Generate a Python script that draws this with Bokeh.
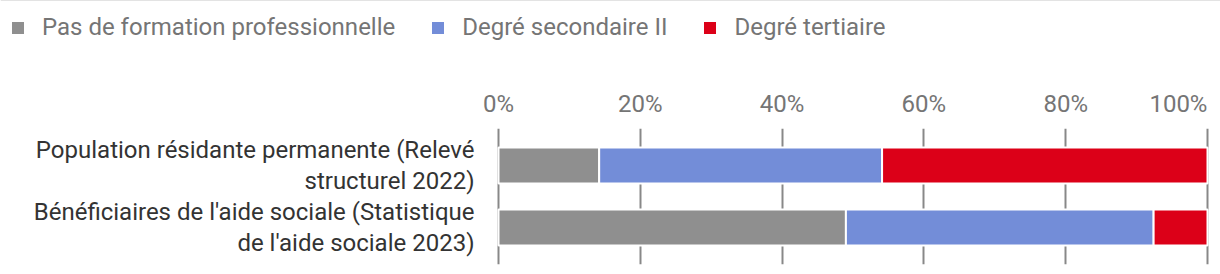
from bokeh.plotting import figure
from bokeh.layouts import column
from bokeh.models import (ColumnDataSource, FixedTicker, Legend, LegendItem, LinearAxis,
                          Range1d, Grid)
from bokeh.embed import file_html
from bokeh.resources import INLINE

# ---- data ----
categories = ["Population résidante permanente (Relevé\nstructurel 2022)",
              "Bénéficiaires de l'aide sociale (Statistique\nde l'aide sociale 2023)"]
series_names = ["Pas de formation professionnelle", "Degré secondaire II", "Degré tertiaire"]
no_training = [14.2, 49.0]
secondary_ii = [39.9, 43.4]
tertiary = [45.9, 7.6]
x_ticks = [0, 20, 40, 60, 80, 100]
x_tick_labels = ["0%", "20%", "40%", "60%", "80%", "100%"]
colors = ["#8f8f8f", "#738dd8", "#dc0018"]

FONT = "Roboto"
FS = "24px"
ypos = [len(categories) - 1 - i for i in range(len(categories))]

src = ColumnDataSource(dict(y=ypos, a=no_training, b=secondary_ii, c=tertiary))

# ---------------- legend strip ----------------
LEG_H = 60
leg = figure(width=1220, height=LEG_H, output_backend="svg", toolbar_location=None,
             x_range=Range1d(0, 1), y_range=Range1d(0, 1),
             x_axis_location=None, y_axis_location=None,
             min_border=0, frame_align=False)
leg.outline_line_color = None
leg.xgrid.visible = False
leg.ygrid.visible = False
# swatch-only renderers, kept outside the visible range of this strip
off = ColumnDataSource(dict(y=[10], a=[1], b=[1], c=[1]))
leg_renderers = leg.hbar_stack(["a", "b", "c"], y="y", height=0.5, color=colors,
                               line_color=None, source=off)
legend = Legend(items=[LegendItem(label=n, renderers=[r]) for n, r in zip(series_names, leg_renderers)],
                orientation="horizontal", location=(10, 19),
                glyph_width=15, glyph_height=15, label_standoff=17, spacing=35,
                padding=0, margin=0, border_line_color=None, background_fill_alpha=0,
                label_text_font=FONT, label_text_font_size=FS, label_text_color="#757575")
leg.add_layout(legend, "center")

# ---------------- main chart ----------------
px_per_unit = 7.09
x_start = -8 / px_per_unit
x_end = 100 + 8 / px_per_unit

p = figure(width=1220, height=274 - LEG_H, output_backend="svg", toolbar_location=None,
           x_range=Range1d(x_start, x_end), y_range=Range1d(-0.597, 1.597),
           x_axis_location=None, y_axis_location=None,
           min_border_left=490, min_border_right=5, min_border_top=128 - LEG_H,
           min_border_bottom=10, frame_align=False)
p.outline_line_color = None
p.xgrid.visible = False
p.ygrid.visible = False

grid = Grid(dimension=0, ticker=FixedTicker(ticks=x_ticks), grid_line_color="#888888",
            grid_line_width=2)
p.add_layout(grid)

p.hbar_stack(["a", "b", "c"], y="y", height=36 / 62, color=colors,
             line_color="white", line_width=2, source=src)

# top axis with percentage labels (last label pulled inside like the original)
label_pos = x_ticks[:-1] + [95.9]
xaxis = LinearAxis(ticker=FixedTicker(ticks=label_pos),
                   major_label_overrides={pos: lab for pos, lab in zip(label_pos, x_tick_labels)},
                   axis_line_color=None, major_tick_line_color=None, minor_tick_line_color=None,
                   major_label_text_font=FONT, major_label_text_font_size=FS,
                   major_label_text_color="#757575", major_label_standoff=5)
p.add_layout(xaxis, "above")

yaxis = LinearAxis(ticker=FixedTicker(ticks=ypos),
                   major_label_overrides={y: c for y, c in zip(ypos, categories)},
                   axis_line_color=None, major_tick_line_color=None, minor_tick_line_color=None,
                   major_label_text_font=FONT, major_label_text_font_size=FS,
                   major_label_text_color="#333333", major_label_standoff=10,
                   major_label_text_line_height=1.1)
p.add_layout(yaxis, "left")

layout = column(leg, p, spacing=0)
open("out.html", "w").write(file_html(layout, INLINE))
